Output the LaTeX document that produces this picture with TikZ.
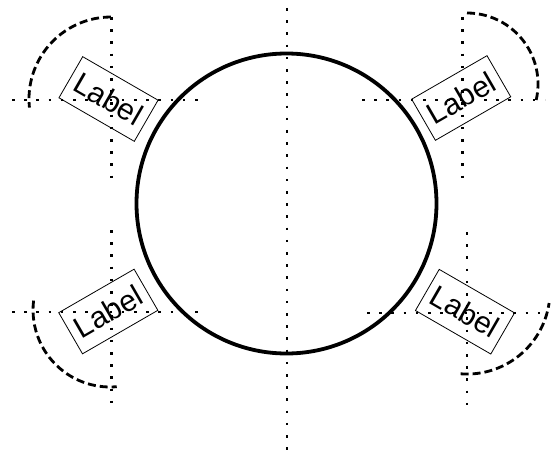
\documentclass[tikz,border=0pt]{standalone}
\usepackage{fontspec}
\setmainfont{Liberation Sans}
\usepackage{xcolor}
\usepackage{tikz}
\usetikzlibrary{positioning}

\begin{document}
\begin{tikzpicture}[x=1pt,y=1pt,
        guide/.style={line width=2.6pt, dash pattern=on 2.6pt off 9.6pt},
        swing/.style={line width=2.8pt, dash pattern=on 8pt off 4pt},
        seat/.style={draw, line width=0.8pt, inner sep=0pt, minimum width=87pt, minimum height=47.5pt, font=\fontsize{30}{30}\selectfont}]
        \useasboundingbox (0,0) rectangle (551,456);
        % guide lines
        \draw[guide] (287,448) -- (287,4);
        \draw[guide] (111.5,439) -- (111.5,270); \draw[guide] (12,356) -- (207,356);
        \draw[guide] (462.5,439) -- (462.5,270); \draw[guide] (362,356) -- (545,356);
        \draw[guide] (111.5,226) -- (111.5,46); \draw[guide] (12,144) -- (206,144);
        \draw[guide] (467,224) -- (467,46); \draw[guide] (367,143) -- (540,143);
        % table
        \draw[line width=3.8pt] (286.5,252.5) circle (150);
        % door swings
        \draw[swing] (111,439) arc (90:186:82);
        \draw[swing] (467,443) arc (90:-13:71);
        \draw[swing] (33.6,155.4) arc (173:275:77);
        \draw[swing] (460.6,82.2) arc (265.6:351.7:83);
        % seats
        \node[seat, rotate=-30] (seatTL) at (108.5,357) {Label};
        \node[seat, rotate=30] (seatTR) at (461.2,358) {Label};
        \node[seat, rotate=30] (seatBL) at (108.3,144.5) {Label};
        \node[seat, rotate=-30] (seatBR) at (465,144.3) {Label};
    \end{tikzpicture}
\end{document}
